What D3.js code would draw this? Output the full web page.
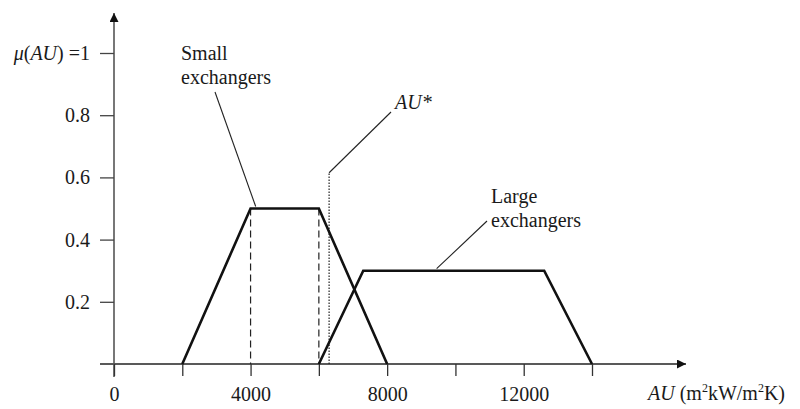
<!DOCTYPE html>
<html><head><meta charset="utf-8">
<script src="https://cdn.jsdelivr.net/npm/d3@7"></script>
<style>
body{margin:0;background:#fff;}
text{font-family:"Liberation Serif","Times New Roman",serif;fill:#1a1a1a;}
</style></head><body>
<svg id="c" width="800" height="409"></svg>
<script>
// Data
const smallX = [2000, 4000, 6000, 8000];
const smallY = [0, 0.5, 0.5, 0];
const largeX = [6000, 7300, 12600, 14000];
const largeY = [0, 0.3, 0.3, 0];
const auStar = 6300;
const auStarTop = 0.615;
const xTicks = [0, 2000, 4000, 6000, 8000, 10000, 12000, 14000];
const xTickLabels = ["0", "", "4000", "", "8000", "", "12000", ""];
const yTicks = [0.2, 0.4, 0.6, 0.8, 1];
const yTickLabels = ["0.2", "0.4", "0.6", "0.8", "=1"];
const dashedX = [4000, 6000];

const FS = 20;
const svg = d3.select("#c");
const x = d3.scaleLinear().domain([0, 14000]).range([114, 592]);
const y = d3.scaleLinear().domain([0, 1]).range([364, 53]);

// arrow marker
const defs = svg.append("defs");
defs.append("marker").attr("id","arr").attr("viewBox","0 0 10 10").attr("refX",10).attr("refY",5)
  .attr("markerWidth",12).attr("markerHeight",9).attr("markerUnits","userSpaceOnUse").attr("orient","auto")
  .append("path").attr("d","M0,0 L10,5 L0,10 z").attr("fill","#111");

// x axis line
svg.append("line").attr("x1",100).attr("x2",686).attr("y1",y(0)).attr("y2",y(0))
  .attr("stroke","#222").attr("stroke-width",1.3).attr("marker-end","url(#arr)");
// y axis line
svg.append("line").attr("x1",x(0)).attr("x2",x(0)).attr("y1",377).attr("y2",13)
  .attr("stroke","#555").attr("stroke-width",1.6).attr("marker-end","url(#arr)");

// x ticks via axis
const xAxis = d3.axisBottom(x).tickValues(xTicks).tickSize(12).tickPadding(11)
  .tickFormat((d,i)=>xTickLabels[i]);
const gx = svg.append("g").attr("transform",`translate(0,${y(0)})`).call(xAxis);
gx.select(".domain").remove();
gx.selectAll(".tick line").attr("stroke","#333").attr("stroke-width",1.3);
gx.selectAll(".tick text").attr("font-size",FS).attr("fill","#1a1a1a")
  .style("font-family","Liberation Serif, serif");

// y ticks
const yAxis = d3.axisLeft(y).tickValues(yTicks).tickSize(14).tickPadding(10)
  .tickFormat((d,i)=>yTickLabels[i]);
const gy = svg.append("g").attr("transform",`translate(${x(0)},0)`).call(yAxis);
gy.select(".domain").remove();
gy.selectAll(".tick line").attr("stroke","#444").attr("stroke-width",1.3);
gy.selectAll(".tick text").attr("font-size",FS).attr("fill","#1a1a1a")
  .style("font-family","Liberation Serif, serif");
// mu(AU) prefix
const topLab = gy.selectAll(".tick").filter(d=>d===1).select("text");
topLab.text(null);
topLab.append("tspan").attr("font-style","italic").text("μ");
topLab.append("tspan").text("(");
topLab.append("tspan").attr("font-style","italic").text("AU");
topLab.append("tspan").text(") =1");

// dashed verticals
svg.selectAll(".dash").data(dashedX).enter().append("line")
  .attr("x1",d=>x(d)).attr("x2",d=>x(d)).attr("y1",y(0.5)).attr("y2",y(0))
  .attr("stroke","#222").attr("stroke-width",1.2).attr("stroke-dasharray","7,4");

// dotted AU*
svg.append("line").attr("x1",x(auStar)).attr("x2",x(auStar)).attr("y1",y(0)).attr("y2",y(auStarTop))
  .attr("stroke","#222").attr("stroke-width",1.2).attr("stroke-dasharray","1.5,1.5");

// trapezoids
const line = d3.line().x(d=>x(d[0])).y(d=>y(d[1]));
svg.append("path").attr("d",line(smallX.map((v,i)=>[v,smallY[i]])))
  .attr("fill","none").attr("stroke","#111").attr("stroke-width",2.6).attr("stroke-linejoin","miter");
svg.append("path").attr("d",line(largeX.map((v,i)=>[v,largeY[i]])))
  .attr("fill","none").attr("stroke","#111").attr("stroke-width",2.6).attr("stroke-linejoin","miter");

// leaders
function leader(x1,y1,x2,y2){
  svg.append("line").attr("x1",x1).attr("y1",y1).attr("x2",x2).attr("y2",y2)
    .attr("stroke","#222").attr("stroke-width",1.1);
}
leader(215,92,x(4150),y(0.5)-2);
leader(x(auStar),y(auStarTop),391,112);
leader(487,221,x(9450),y(0.3)-2);

// labels
const t1 = svg.append("text").attr("x",181).attr("y",60).attr("font-size",FS);
t1.append("tspan").attr("x",181).text("Small");
t1.append("tspan").attr("x",181).attr("dy",24).text("exchangers");
const t2 = svg.append("text").attr("x",491).attr("y",203).attr("font-size",FS);
t2.append("tspan").attr("x",491).text("Large");
t2.append("tspan").attr("x",491).attr("dy",24).text("exchangers");
svg.append("text").attr("x",395).attr("y",109).attr("font-size",FS).attr("font-style","italic").text("AU*");

const xl = svg.append("text").attr("x",648).attr("y",400).attr("font-size",FS);
xl.append("tspan").attr("font-style","italic").text("AU");
xl.append("tspan").text(" (m");
xl.append("tspan").attr("font-size",12).attr("dy",-8).text("2");
xl.append("tspan").attr("dy",8).text("kW/m");
xl.append("tspan").attr("font-size",12).attr("dy",-8).text("2");
xl.append("tspan").attr("dy",8).text("K)");
</script></body></html>
